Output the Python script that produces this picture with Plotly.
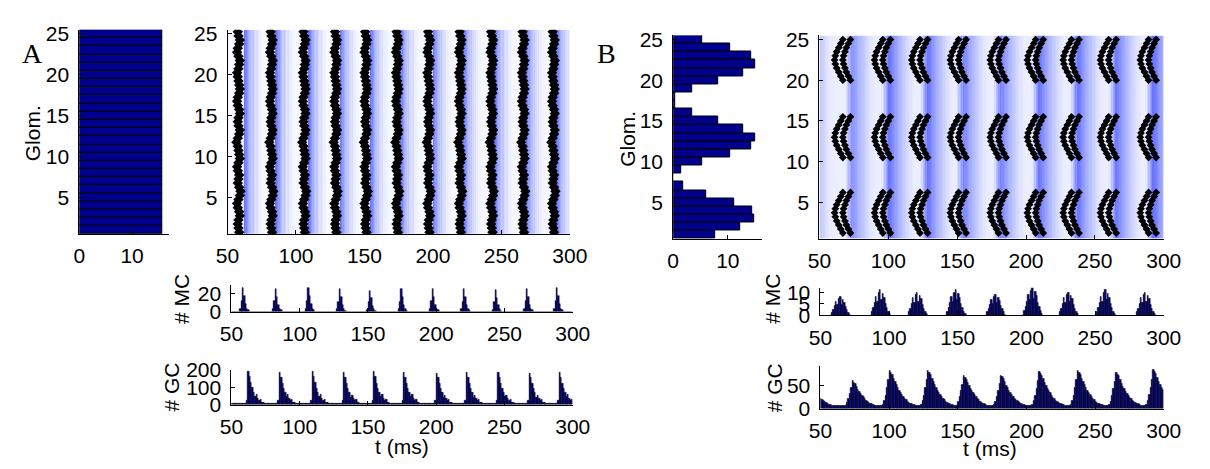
import plotly.graph_objects as go

# ---------------- data ----------------
glom = list(range(1, 26))
A_glom_counts = [15.7, 15.7, 15.7, 15.7, 15.7, 15.7, 15.7, 15.7, 15.7, 15.7, 15.7, 15.7, 15.7,
                 15.7, 15.7, 15.7, 15.7, 15.7, 15.7, 15.7, 15.7, 15.7, 15.7, 15.7, 15.7]
B_glom_counts = [7.6, 12.3, 14.9, 14.5, 11.1, 6.1, 1.8, 0, 1.4, 5.4, 10.4, 14.2, 15.1,
                 12.8, 8.3, 3.5, 0.4, 0.4, 3.5, 8.3, 12.8, 15.1, 14.2, 10.4, 5.4]

t_start, t_end = 50, 300  # 1 ms bins

# panel A : synchronous oscillation
A_cycle = [58, 82, 106, 129, 151, 174, 197, 220, 243, 266, 288]
A_mc_peak = [27, 26, 27, 25, 23, 25, 26, 25, 24, 26, 27]
A_mc_off = [-2, -1, 0, 1, 2, 3, 4]
A_mc_profile = [0.1, 0.45, 1.0, 0.65, 0.3, 0.12, 0.05]
A_gc_peak_t = [62, 85, 109, 132, 154, 176, 200, 222, 245, 268, 290]
A_gc_peak = [190, 185, 188, 182, 186, 184, 180, 182, 183, 180, 184]
A_gc_off = [-1, 0, 1, 2, 3, 4, 5, 6, 7, 8, 9, 10, 11, 12]
A_gc_profile = [0.12, 1.0, 0.85, 0.66, 0.5, 0.37, 0.24, 0.3, 0.18, 0.13, 0.16, 0.08, 0.06, 0.05]
A_gc_base = 6
# MC spike zig-zag (offset in ms for rows at glom 0.75, 1.25, ... 25.25)
A_zig = [0.5, 0, -0.5, 0, 1, 0.5, -0.5, -1, 0, 1, 1.5, 0.5, -0.5, 0, 0.5, -0.5, -1, 0, 1, 0.5,
         0, -0.5, -1.5, -0.5, 0.5, 1, 0, -0.5, 0, 1, 0.5, -0.5, -1, -0.5, 0.5, 1, 0.5, 0, -0.5, -1,
         0, 0.5, 1, 0, -1, -0.5, 0.5, 1, 0, -0.5]
A_zig_rows = [0.75 + 0.5 * i for i in range(50)]

# panel B : three glomerular groups
B_cycle = [65, 94, 121, 149, 178, 205, 231, 258, 287]
B_group_center = [3.7, 13.0, 22.5]
B_dy = [-2.5, -2, -1.5, -1, -0.5, 0, 0.5, 1, 1.5, 2, 2.5]
B_arc1 = [2, 0.5, -1, -2.5, -3.5, -4, -3.5, -2.5, -1, 0.5, 2]
B_arc2 = [7.5, 6, 4.5, 3.5, 2.5, 2, 2.5, 3.5, 4.5, 6, 7.5]
B_mc_peak = [8, 11, 10, 11, 9, 12, 10, 11, 10]
B_mc_off = [-7, -6, -5, -4, -3, -2, -1, 0, 1, 2, 3, 4, 5, 6]
B_mc_profile = [0.15, 0.3, 0.5, 0.75, 0.55, 0.9, 1.0, 0.6, 0.85, 0.7, 0.45, 0.3, 0.15, 0.05]
B_gc_peak_t = [73, 100, 128, 154, 181, 209, 237, 265, 292]
B_gc_peak = [60, 83, 83, 71, 73, 81, 83, 79, 85]
B_gc_off = list(range(-5, 19))
B_gc_profile = [0.1, 0.2, 0.35, 0.55, 0.75, 1.0, 0.95, 0.9, 0.8, 0.7, 0.62, 0.55, 0.48, 0.42,
                0.36, 0.3, 0.26, 0.22, 0.19, 0.16, 0.14, 0.12, 0.1, 0.09]
B_gc_start = [22, 20, 18, 16, 13, 11, 9, 8, 7, 7]
B_gc_base = 6

# ---------------- build histograms ----------------
bins = list(range(t_start, t_end))
centers = [b + 0.5 for b in bins]


def build(base, times, peaks, offs, prof, start=None, mode="max"):
    v = [float(base)] * len(bins)
    if start:
        for i, s in enumerate(start):
            v[i] = max(v[i], s)
    for T, P in zip(times, peaks):
        for o, p in zip(offs, prof):
            i = T + o - t_start
            if 0 <= i < len(bins):
                v[i] = max(v[i], P * p) if mode == "max" else v[i] + P * p
    return v


A_mc = build(0, A_cycle, A_mc_peak, A_mc_off, A_mc_profile, mode="sum")
A_gc = build(A_gc_base, A_gc_peak_t, A_gc_peak, A_gc_off, A_gc_profile)
B_mc = build(0, B_cycle, B_mc_peak, B_mc_off, B_mc_profile, mode="sum")
B_gc = build(B_gc_base, B_gc_peak_t, B_gc_peak, B_gc_off, B_gc_profile, start=B_gc_start)

# ---------------- figure ----------------
W, H = 1210, 469
NAVY = "rgb(0,0,140)"
FONT = dict(family="Liberation Sans, Arial, sans-serif", size=21, color="black")


def dx(a, b):
    return [a / W, b / W]


def dy(top, bottom):
    return [1 - bottom / H, 1 - top / H]


fig = go.Figure()

blue_scale = [[0, "rgb(255,255,255)"], [0.05, "rgb(240,242,255)"], [0.25, "rgb(196,203,255)"],
              [0.6, "rgb(150,160,255)"], [1, "rgb(105,115,255)"]]

# A glom histogram
fig.add_trace(go.Bar(x=A_glom_counts, y=glom, orientation="h", width=1,
                     marker=dict(color=NAVY, line=dict(color="black", width=1)),
                     xaxis="x", yaxis="y", showlegend=False))
# A raster
fig.add_trace(go.Heatmap(x=centers, y=glom, z=[A_gc for _ in glom], colorscale=blue_scale,
                         zmin=0, zmax=max(A_gc), showscale=False, xaxis="x2", yaxis="y2"))
ax, ay = [], []
for T in A_cycle:
    for r, o in zip(A_zig_rows, A_zig):
        ax.append(T + o)
        ay.append(r)
fig.add_trace(go.Scatter(x=ax, y=ay, mode="markers", xaxis="x2", yaxis="y2", showlegend=False,
                         marker=dict(symbol="diamond", size=8, color="black")))
# A MC / GC
fig.add_trace(go.Bar(x=centers, y=A_mc, width=1, xaxis="x3", yaxis="y3", showlegend=False,
                     marker=dict(color=NAVY, line=dict(color="black", width=0.5))))
fig.add_trace(go.Bar(x=centers, y=A_gc, width=1, xaxis="x4", yaxis="y4", showlegend=False,
                     marker=dict(color=NAVY, line=dict(color="black", width=0.5))))

# B glom histogram
fig.add_trace(go.Bar(x=B_glom_counts, y=glom, orientation="h", width=1,
                     marker=dict(color=NAVY, line=dict(color="black", width=1)),
                     xaxis="x5", yaxis="y5", showlegend=False))
# B raster
fig.add_trace(go.Heatmap(x=centers, y=glom, z=[B_gc for _ in glom], colorscale=blue_scale,
                         zmin=0, zmax=max(B_gc), showscale=False, xaxis="x6", yaxis="y6"))
bx, by = [], []
for T in B_cycle:
    for c in B_group_center:
        for d, o1, o2 in zip(B_dy, B_arc1, B_arc2):
            bx += [T + o1, T + o2]
            by += [c + d, c + d]
fig.add_trace(go.Scatter(x=bx, y=by, mode="markers", xaxis="x6", yaxis="y6", showlegend=False,
                         marker=dict(symbol="diamond", size=6, color="black")))
fig.add_trace(go.Bar(x=centers, y=B_mc, width=1, xaxis="x7", yaxis="y7", showlegend=False,
                     marker=dict(color=NAVY, line=dict(color="black", width=0.5))))
fig.add_trace(go.Bar(x=centers, y=B_gc, width=1, xaxis="x8", yaxis="y8", showlegend=False,
                     marker=dict(color=NAVY, line=dict(color="black", width=0.5))))

common = dict(showline=True, linecolor="black", linewidth=1, ticks="inside", ticklen=4,
              tickcolor="black", showgrid=False, zeroline=False, tickfont=FONT, mirror=False)

axes = {
    1: (dx(69, 161), dy(18.7, 233.7), [0, 17], [0, 10], [0.5, 25.5], [5, 10, 15, 20, 25]),
    2: (dx(221, 572), dy(18.7, 233.7), [50, 300], [50, 100, 150, 200, 250, 300], [0.5, 25.5], [5, 10, 15, 20, 25]),
    3: (dx(225, 575), dy(287, 315), [50, 300], [50, 100, 150, 200, 250, 300], [0, 30], [0, 20]),
    4: (dx(225, 575), dy(376, 413), [50, 300], [50, 100, 150, 200, 250, 300], [0, 200], [0, 100, 200]),
    5: (dx(678, 769), dy(24.7, 238.5), [0, 16.25], [0, 10], [0.5, 25.5], [5, 10, 15, 20, 25]),
    6: (dx(828, 1181), dy(24.7, 238.5), [50, 300], [50, 100, 150, 200, 250, 300], [0.5, 25.5], [5, 10, 15, 20, 25]),
    7: (dx(829, 1181), dy(290, 319), [50, 300], [50, 100, 150, 200, 250, 300], [0, 12], [0, 5, 10]),
    8: (dx(829, 1181), dy(372, 417), [50, 300], [50, 100, 150, 200, 250, 300], [0, 94], [0, 50]),
}
layout = {}
for k, (xd, yd, xr, xt, yr, yt) in axes.items():
    xs = "xaxis" if k == 1 else f"xaxis{k}"
    ys = "yaxis" if k == 1 else f"yaxis{k}"
    xa = "x" if k == 1 else f"x{k}"
    ya = "y" if k == 1 else f"y{k}"
    layout[xs] = dict(common, domain=xd, range=xr, tickvals=xt, anchor=ya, ticklabelstandoff=3)
    layout[ys] = dict(common, domain=yd, range=yr, tickvals=yt, anchor=xa, ticklabelstandoff=5)

ann = [
    dict(text="A", x=21, y=44, font=dict(family="Liberation Serif, Times New Roman, serif", size=28, color="black")),
    dict(text="B", x=610, y=44, font=dict(family="Liberation Serif, Times New Roman, serif", size=28, color="black")),
    dict(text="Glom.", x=21, y=127, textangle=-90, font=FONT),
    dict(text="Glom.", x=631, y=133, textangle=-90, font=FONT),
    dict(text="# MC", x=173, y=302, textangle=-90, font=FONT),
    dict(text="# MC", x=780, y=302, textangle=-90, font=FONT),
    dict(text="# GC", x=164, y=394, textangle=-90, font=FONT),
    dict(text="# GC", x=782, y=395, textangle=-90, font=FONT),
    dict(text="t (ms)", x=400, y=457, font=FONT),
    dict(text="t (ms)", x=1003, y=459, font=FONT),
]
annotations = []
for a in ann:
    d = dict(a)
    d["x"] = a["x"] / W
    d["y"] = 1 - a["y"] / H
    d.update(xref="paper", yref="paper", showarrow=False, xanchor="center", yanchor="middle")
    annotations.append(d)

fig.update_layout(width=W, height=H, margin=dict(l=0, r=0, t=0, b=0), paper_bgcolor="white",
                  plot_bgcolor="white", bargap=0, annotations=annotations, **layout)

fig.write_html("out.html")
